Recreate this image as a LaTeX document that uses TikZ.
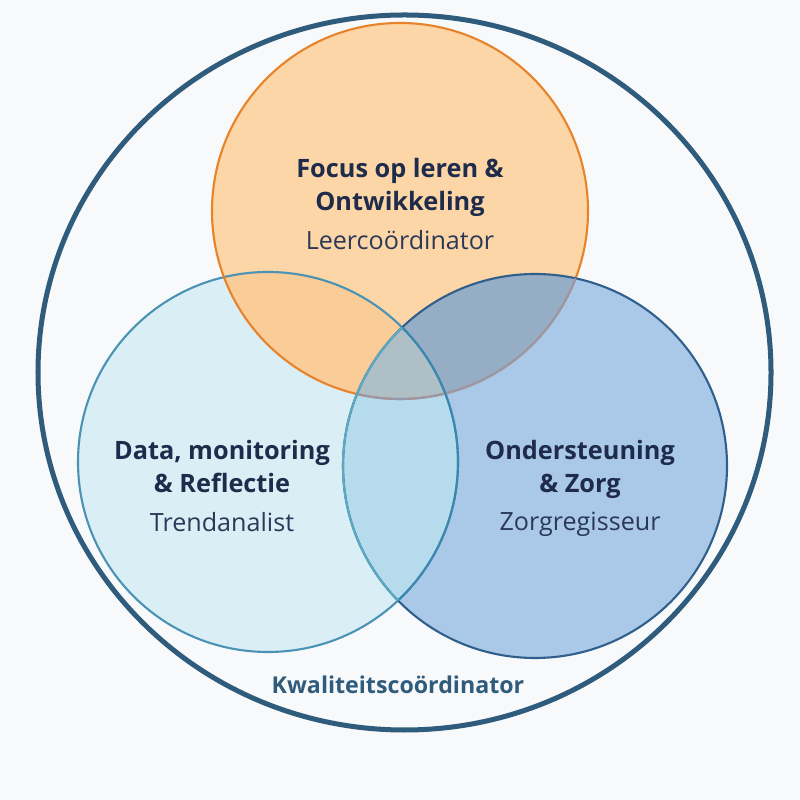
\documentclass[tikz,border=0pt]{standalone}
\usepackage{fontspec}
\setmainfont{Open Sans}
\usetikzlibrary{positioning}

\definecolor{canvasBg}{HTML}{F8F9FA}
\definecolor{headingText}{HTML}{1E2B4A}
\definecolor{roleText}{HTML}{2B3857}
\definecolor{outerLine}{HTML}{2F5B7C}
\definecolor{focusFill}{HTML}{FCD6A6}
\definecolor{focusLine}{HTML}{E8832A}
\definecolor{dataFill}{HTML}{DAEEF5}
\definecolor{dataLine}{HTML}{4A93B5}
\definecolor{careFill}{HTML}{AAC8E8}
\definecolor{careLine}{HTML}{2F5F8C}
\definecolor{focusDataFill}{HTML}{F9CC98}
\definecolor{focusCareFill}{HTML}{96ADC6}
\definecolor{dataCareFill}{HTML}{B6DBEC}
\definecolor{centerFill}{HTML}{AEC0C5}
\definecolor{focusInCare}{HTML}{9698AC}
\definecolor{dataInCare}{HTML}{3C87AE}
\definecolor{careInData}{HTML}{5AAAC4}

\begin{document}
\begin{tikzpicture}[x=0.02cm,y=0.02cm,node distance=2mm]
		\tikzstyle{heading} = [font=\fontsize{14.4}{19.3}\selectfont\bfseries, text=headingText, align=center, inner sep=0pt, text depth=0.3em]
		\tikzstyle{role} = [font=\fontsize{14.3}{16}\selectfont, text=roleText, inner sep=0pt]
		\tikzstyle{ring} = [line width=1.2pt]
		
		\fill[canvasBg] (0,0) rectangle (800,800);
		\useasboundingbox (0,0) rectangle (800,800);
		
		\coordinate (outerCenter) at (404.5,427.5);
		\coordinate (focusCenter) at (400,589);
		\coordinate (dataCenter) at (268,338);
		\coordinate (careCenter) at (535,334);
		
		% base fills
		\fill[dataFill] (dataCenter) circle (190);
		\fill[focusFill] (focusCenter) circle (188);
		\fill[careFill] (careCenter) circle (192);
		
		% overlaps
		\begin{scope}
			\clip (focusCenter) circle (188);
			\fill[focusDataFill] (dataCenter) circle (190);
			\fill[focusCareFill] (careCenter) circle (192);
		\end{scope}
		\begin{scope}
			\clip (dataCenter) circle (190);
			\fill[dataCareFill] (careCenter) circle (192);
			\clip (focusCenter) circle (188);
			\fill[centerFill] (careCenter) circle (192);
		\end{scope}
		
		% outlines
		\draw[ring, dataLine] (dataCenter) circle (190);
		\draw[ring, focusLine] (focusCenter) circle (188);
		\draw[ring, careLine] (careCenter) circle (192);
		\begin{scope}
			\clip (careCenter) circle (192);
			\draw[ring, focusInCare] (focusCenter) circle (188);
			\draw[ring, dataInCare] (dataCenter) circle (190);
		\end{scope}
		\begin{scope}
			\clip (dataCenter) circle (190);
			\draw[ring, careInData] (careCenter) circle (192);
		\end{scope}
		
		\draw[outerLine, line width=2.85pt] (outerCenter) ellipse [x radius=366.5, y radius=357.5];
		
		% labels
		\node (focusTitle) [heading] at (400,613) {Focus op leren \&\\Ontwikkeling};
		\node (focusRole) [role, below=7.5pt of focusTitle] {Leercoördinator};
		
		\node (dataTitle) [heading] at (222,331) {Data, monitoring\\\& Reflectie};
		\node (dataRole) [role, below=7.5pt of dataTitle] {Trendanalist};
		
		\node (careTitle) [heading] at (580,331) {Ondersteuning\\\& Zorg};
		\node (careRole) [role, below=7.5pt of careTitle] {Zorgregisseur};
		
		\node (qualityLabel) [font=\fontsize{13.2}{16}\selectfont\bfseries, text=outerLine] at (398,115) {Kwaliteitscoördinator};
	
	\end{tikzpicture}
\end{document}
